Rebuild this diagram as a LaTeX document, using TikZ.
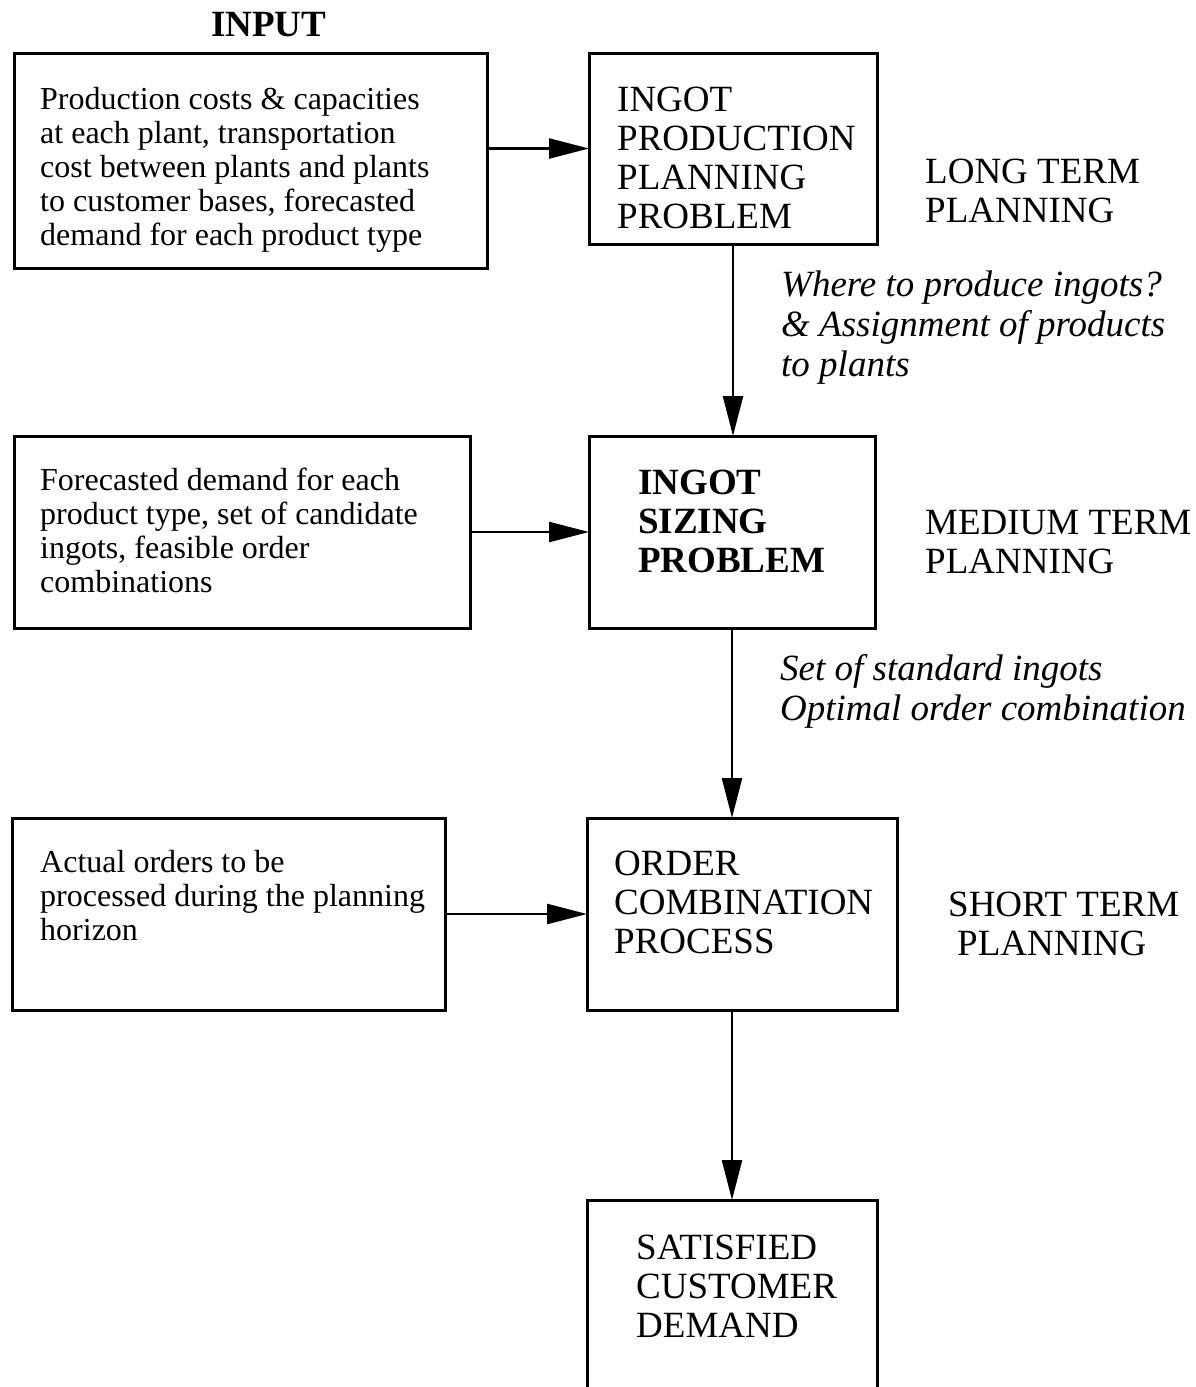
\documentclass[tikz,border=0pt]{standalone}
\usepackage{fontspec}
\setmainfont{Liberation Serif}
\usetikzlibrary{arrows.meta}
\tikzset{
  box/.style={draw, line width=3pt, rectangle, inner sep=0pt, outer sep=0pt, anchor=north west},
  maintext/.style={anchor=north west, inner sep=0pt, align=left, font=\fontsize{37}{39}\selectfont},
  boldtext/.style={anchor=north west, inner sep=0pt, align=left, font=\fontsize{37}{39}\selectfont\bfseries},
  intext/.style={anchor=north west, inner sep=0pt, align=left, font=\fontsize{32}{34}\selectfont},
  labtext/.style={anchor=north west, inner sep=0pt, align=left, font=\fontsize{37}{40}\selectfont\itshape},
  arr/.style={line width=2.5pt, -{Triangle[length=40pt,width=20pt]}}
}
\begin{document}
\begin{tikzpicture}[x=1pt,y=-1pt]
\useasboundingbox (0,0) rectangle (1196,1387);
\clip (0,0) rectangle (1196,1387);
% title
\node[anchor=north west, inner sep=0pt, font=\fontsize{37}{39}\selectfont\bfseries] (title) at (211,12) {INPUT};
% boxes
\node[box, minimum width=473pt, minimum height=215pt] (in1) at (14,53) {};
\node[box, minimum width=288pt, minimum height=191pt] (m1) at (589,53) {};
\node[box, minimum width=456pt, minimum height=192pt] (in2) at (14,436) {};
\node[box, minimum width=286pt, minimum height=192pt] (m2) at (589,436) {};
\node[box, minimum width=433pt, minimum height=192pt] (in3) at (12,818) {};
\node[box, minimum width=310pt, minimum height=192pt] (m3) at (587,818) {};
\node[box, minimum width=290pt, minimum height=260pt] (m4) at (587,1200) {};
% texts
\node[intext] (t1) at (40,87) {Production costs \& capacities\\at each plant, transportation\\cost between plants and plants\\to customer bases, forecasted\\demand for each product type};
\node[maintext] (tm1) at (617,87) {INGOT\\PRODUCTION\\PLANNING\\PROBLEM};
\node[maintext] (long) at (925,159) {LONG TERM\\PLANNING};
\node[labtext] (lab1) at (781,271) {Where to produce ingots?\\\&~Assignment of products\\to plants};
\node[intext] (t2) at (40,468) {Forecasted demand for each\\product type, set of candidate\\ingots, feasible order\\combinations};
\node[boldtext] (tm2) at (638,470) {INGOT\\SIZING\\PROBLEM};
\node[maintext] (med) at (925,510) {MEDIUM TERM\\PLANNING};
\node[labtext] (lab2) at (780,654) {Set of standard ingots\\Optimal order combination};
\node[intext] (t3) at (40,850) {Actual orders to be\\processed during the planning\\horizon};
\node[maintext] (tm3) at (614,851) {ORDER\\COMBINATION\\PROCESS};
\node[maintext] (short) at (948,892) {SHORT TERM\\\hspace*{9pt}PLANNING};
\node[maintext] (tm4) at (636,1235) {SATISFIED\\CUSTOMER\\DEMAND};
% connectors
\draw[arr] (in1.east |- m1.west) -- (m1.west);
\draw[arr] (in2.east |- m2.west) -- (m2.west);
\draw[arr] (in3.east |- m3.west) -- (m3.west);
\draw[arr] (m1.south) -- (m1.south |- m2.north);
\draw[arr] (m2.south -| m4.north) -- (m4.north |- m3.north);
\draw[arr] (m3.south -| m4.north) -- (m4.north);
\end{tikzpicture}
\end{document}
